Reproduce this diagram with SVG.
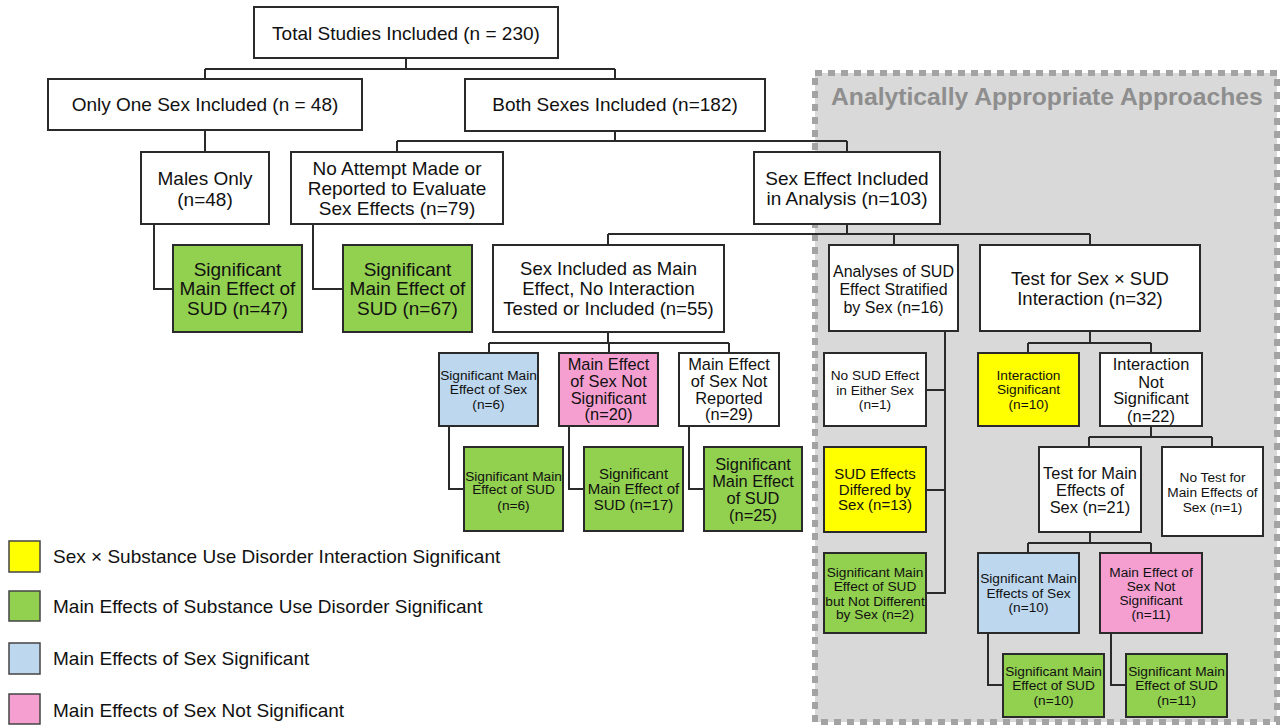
<svg xmlns="http://www.w3.org/2000/svg" width="1285" height="728" viewBox="0 0 1285 728">
<style>
  .bx{stroke:#2a2a2a;stroke-width:2}
  .w{fill:#ffffff}
  .g{fill:#92d050}
  .y{fill:#ffff00}
  .b{fill:#bdd7ee}
  .p{fill:#f59fd0}
  text{font-family:"Liberation Sans",Arial,sans-serif;fill:#111;text-anchor:middle}
  .f19{font-size:19px}
  .f185{font-size:18.5px}
  .f165{font-size:16.4px}
  .f16{font-size:16px}
  .f15{font-size:15px}
  .f137{font-size:13.7px}
  .lg{font-size:19px;text-anchor:start}
  .conn path{fill:none;stroke:#2a2a2a;stroke-width:2}
</style>
<rect x="0" y="0" width="1285" height="728" fill="#ffffff"/>
<g id="region">
  <rect x="815" y="73" width="462" height="649" fill="#d9d9d9" stroke="#a3a3a3" stroke-width="6" stroke-dasharray="7 6"/>
  <text x="831" y="105" style="font-size:24.7px;font-weight:bold;fill:#8e8e8e;text-anchor:start">Analytically Appropriate Approaches</text>
</g>
<g class="conn" id="connectors">
  <path d="M406 58V69M205 69H615M205 69V79M615 69V79"/>
  <path d="M205 130V152"/>
  <path d="M615 131V141M397 141H847M397 141V152M847 141V152"/>
  <path d="M154 224V289H173"/>
  <path d="M313 224V289H343"/>
  <path d="M847 224V234M608 234H1090M608 234V245M894 234V245M1090 234V245"/>
  <path d="M608 332V343M489 343H729M489 343V353M609 343V353M729 343V353"/>
  <path d="M449 426V489H464M569 426V489H584M689 426V489H704"/>
  <path d="M945 331V593H926M926 390H945M926 490H945"/>
  <path d="M1090 331V343M1028 343H1151M1028 343V353M1151 343V353"/>
  <path d="M1151 426V437M1089 437H1212M1089 437V447M1212 437V447"/>
  <path d="M1090 532V543M1028 543H1151M1028 543V553M1151 543V553"/>
  <path d="M988 633V685H1003M1111 633V685H1126"/>
</g>
<g id="total"><rect class="bx w" x="254" y="7" width="304" height="51"/><text class="f19" x="406" y="39.5">Total Studies Included (n = 230)</text></g>
<g id="onesex"><rect class="bx w" x="48" y="79" width="314" height="51"/><text class="f19" x="205" y="111">Only One Sex Included (n = 48)</text></g>
<g id="both"><rect class="bx w" x="465" y="79" width="300" height="52"/><text class="f19" x="615" y="111">Both Sexes Included (n=182)</text></g>
<g id="males"><rect class="bx w" x="141" y="152" width="128" height="72"/><text class="f19" x="205" y="184.5">Males Only</text><text class="f19" x="205" y="205.5">(n=48)</text></g>
<g id="noattempt"><rect class="bx w" x="291" y="152" width="212" height="72"/><text class="f19" x="397" y="174.5">No Attempt Made or</text><text class="f19" x="397" y="194.5">Reported to Evaluate</text><text class="f19" x="397" y="214.5">Sex Effects (n=79)</text></g>
<g id="sexeffect"><rect class="bx w" x="754" y="152" width="186" height="72"/><text class="f19" x="847" y="184.5">Sex Effect Included</text><text class="f19" x="847" y="204.5">in Analysis (n=103)</text></g>
<g id="g47"><rect class="bx g" x="173" y="245" width="129" height="87"/><text class="f19" x="237.5" y="275.5">Significant</text><text class="f19" x="237.5" y="294.5">Main Effect of</text><text class="f19" x="237.5" y="314.5">SUD (n=47)</text></g>
<g id="g67"><rect class="bx g" x="343" y="245" width="129" height="87"/><text class="f19" x="407.5" y="275.5">Significant</text><text class="f19" x="407.5" y="294.5">Main Effect of</text><text class="f19" x="407.5" y="314.5">SUD (n=67)</text></g>
<g id="sexmain"><rect class="bx w" x="493" y="245" width="231" height="87"/><text class="f185" x="608.5" y="274.5">Sex Included as Main</text><text class="f185" x="608.5" y="294.5">Effect, No Interaction</text><text class="f185" x="608.5" y="314.5">Tested or Included (n=55)</text></g>
<g id="analyses"><rect class="bx w" x="829" y="245" width="129" height="86"/><text class="f16" x="893.5" y="276.5">Analyses of SUD</text><text class="f16" x="893.5" y="294.5">Effect Stratified</text><text class="f16" x="893.5" y="312.5">by Sex (n=16)</text></g>
<g id="testint"><rect class="bx w" x="980" y="245" width="220" height="86"/><text class="f185" x="1090" y="284.5">Test for Sex × SUD</text><text class="f185" x="1090" y="304.5">Interaction (n=32)</text></g>
<g id="blue6"><rect class="bx b" x="439" y="353" width="99" height="73"/><text class="f137" x="488.5" y="380">Significant Main</text><text class="f137" x="488.5" y="394">Effect of Sex</text><text class="f137" x="488.5" y="409">(n=6)</text></g>
<g id="pink20"><rect class="bx p" x="559" y="353" width="99" height="73"/><text class="f165" x="608.5" y="370">Main Effect</text><text class="f165" x="608.5" y="387">of Sex Not</text><text class="f165" x="608.5" y="404">Significant</text><text class="f165" x="608.5" y="420">(n=20)</text></g>
<g id="white29"><rect class="bx w" x="679" y="353" width="100" height="73"/><text class="f165" x="729" y="370">Main Effect</text><text class="f165" x="729" y="387">of Sex Not</text><text class="f165" x="729" y="404">Reported</text><text class="f165" x="729" y="420">(n=29)</text></g>
<g id="g6"><rect class="bx g" x="464" y="447" width="99" height="84"/><text class="f137" x="513.5" y="481">Significant Main</text><text class="f137" x="513.5" y="494">Effect of SUD</text><text class="f137" x="513.5" y="510">(n=6)</text></g>
<g id="g17"><rect class="bx g" x="584" y="447" width="99" height="84"/><text class="f15" x="633.5" y="479">Significant</text><text class="f15" x="633.5" y="494">Main Effect of</text><text class="f15" x="633.5" y="510">SUD (n=17)</text></g>
<g id="g25"><rect class="bx g" x="704" y="447" width="98" height="84"/><text class="f165" x="753" y="470">Significant</text><text class="f165" x="753" y="487">Main Effect</text><text class="f165" x="753" y="504">of SUD</text><text class="f165" x="753" y="521">(n=25)</text></g>
<g id="nosud"><rect class="bx w" x="824" y="353" width="102" height="73"/><text class="f137" x="875" y="380">No SUD Effect</text><text class="f137" x="875" y="395">in Either Sex</text><text class="f137" x="875" y="409">(n=1)</text></g>
<g id="yel13"><rect class="bx y" x="824" y="447" width="102" height="85"/><text class="f15" x="875" y="479">SUD Effects</text><text class="f15" x="875" y="495">Differed by</text><text class="f15" x="875" y="510">Sex (n=13)</text></g>
<g id="g2"><rect class="bx g" x="824" y="553" width="102" height="80"/><text class="f137" x="875" y="577">Significant Main</text><text class="f137" x="875" y="591">Effect of SUD</text><text class="f137" x="875" y="606">but Not Different</text><text class="f137" x="875" y="619">by Sex (n=2)</text></g>
<g id="intsig"><rect class="bx y" x="978" y="353" width="101" height="73"/><text class="f137" x="1028.5" y="380">Interaction</text><text class="f137" x="1028.5" y="394">Significant</text><text class="f137" x="1028.5" y="409">(n=10)</text></g>
<g id="intnot"><rect class="bx w" x="1100" y="353" width="102" height="73"/><text class="f165" x="1151" y="370">Interaction</text><text class="f165" x="1151" y="388">Not</text><text class="f165" x="1151" y="404">Significant</text><text class="f165" x="1151" y="422">(n=22)</text></g>
<g id="testmain"><rect class="bx w" x="1039" y="447" width="102" height="85"/><text class="f165" x="1090" y="479">Test for Main</text><text class="f165" x="1090" y="496">Effects of</text><text class="f165" x="1090" y="513">Sex (n=21)</text></g>
<g id="notest"><rect class="bx w" x="1162" y="447" width="101" height="89"/><text class="f137" x="1212.5" y="482">No Test for</text><text class="f137" x="1212.5" y="497">Main Effects of</text><text class="f137" x="1212.5" y="512">Sex (n=1)</text></g>
<g id="blue10"><rect class="bx b" x="978" y="553" width="101" height="80"/><text class="f137" x="1028.5" y="583">Significant Main</text><text class="f137" x="1028.5" y="598">Effects of Sex</text><text class="f137" x="1028.5" y="612">(n=10)</text></g>
<g id="pink11"><rect class="bx p" x="1100" y="553" width="102" height="80"/><text class="f137" x="1151" y="577">Main Effect of</text><text class="f137" x="1151" y="591">Sex Not</text><text class="f137" x="1151" y="605">Significant</text><text class="f137" x="1151" y="619">(n=11)</text></g>
<g id="g10"><rect class="bx g" x="1003" y="654" width="101" height="63"/><text class="f137" x="1053.5" y="676">Significant Main</text><text class="f137" x="1053.5" y="690">Effect of SUD</text><text class="f137" x="1053.5" y="705">(n=10)</text></g>
<g id="g11"><rect class="bx g" x="1126" y="654" width="101" height="63"/><text class="f137" x="1176.5" y="676">Significant Main</text><text class="f137" x="1176.5" y="690">Effect of SUD</text><text class="f137" x="1176.5" y="705">(n=11)</text></g>
<g id="legend">
  <rect class="y" x="9" y="541" width="31" height="31" stroke="#444" stroke-width="1.5"/><text class="lg" x="53" y="563">Sex × Substance Use Disorder Interaction Significant</text>
  <rect class="g" x="9" y="591" width="31" height="30" stroke="#444" stroke-width="1.5"/><text class="lg" x="53" y="613">Main Effects of Substance Use Disorder Significant</text>
  <rect class="b" x="9" y="643" width="31" height="31" stroke="#444" stroke-width="1.5"/><text class="lg" x="53" y="665">Main Effects of Sex Significant</text>
  <rect class="p" x="9" y="694" width="31" height="30" stroke="#444" stroke-width="1.5"/><text class="lg" x="53" y="717">Main Effects of Sex Not Significant</text>
</g>
</svg>
